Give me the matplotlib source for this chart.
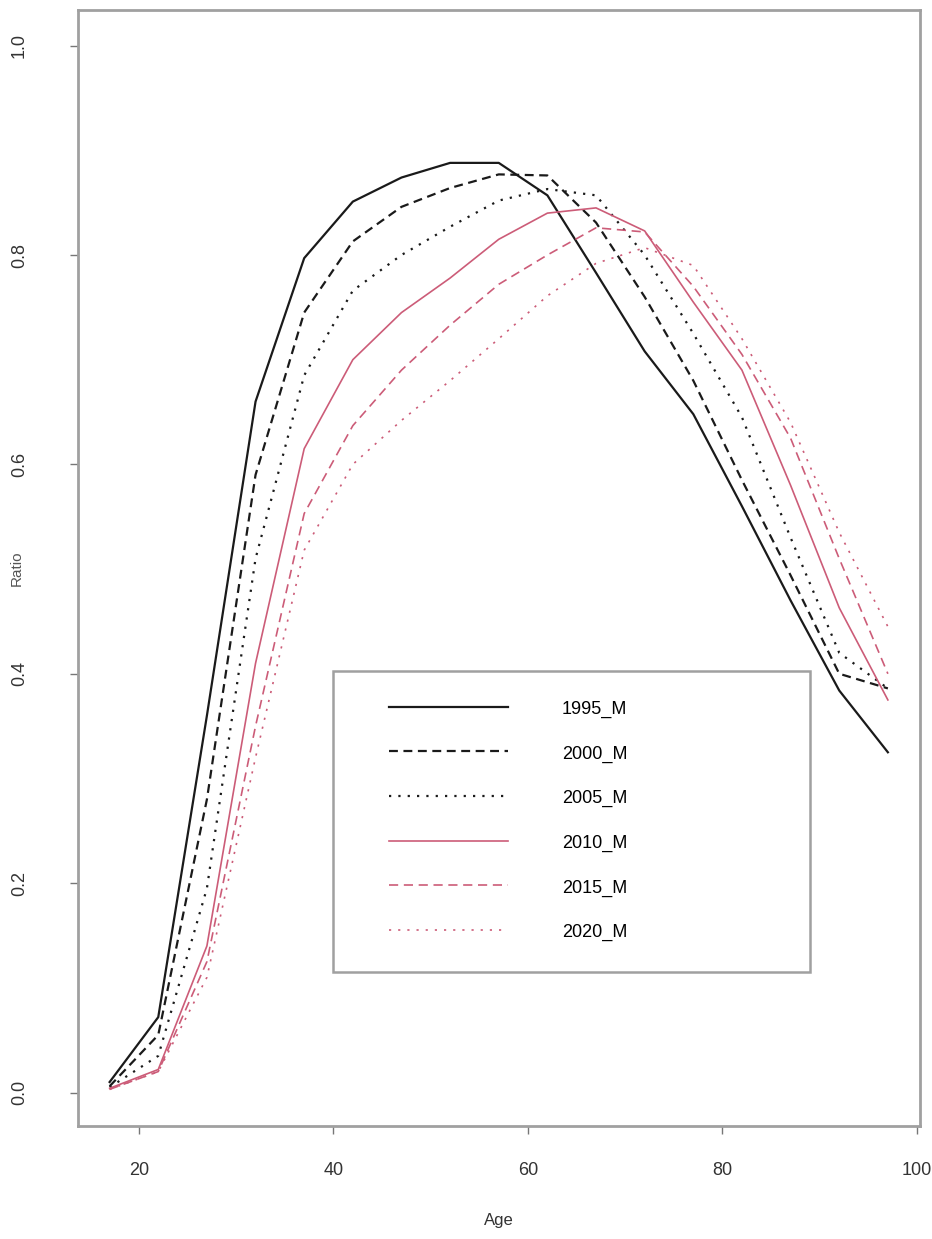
import matplotlib.pyplot as plt
from matplotlib.patches import Rectangle

# ages (5-year groups) and ratio per survey year
ages = [17, 22, 27, 32, 37, 42, 47, 52, 57, 62, 67, 72, 77, 82, 87, 92, 97]
r1995 = [0.010, 0.072, 0.360, 0.660, 0.797, 0.851, 0.874, 0.888, 0.888, 0.857,
         0.783, 0.708, 0.648, 0.560, 0.470, 0.384, 0.325]
r2000 = [0.006, 0.055, 0.280, 0.590, 0.745, 0.813, 0.846, 0.864, 0.877, 0.876,
         0.831, 0.760, 0.680, 0.585, 0.494, 0.400, 0.386]
r2005 = [0.005, 0.035, 0.195, 0.510, 0.685, 0.766, 0.800, 0.827, 0.852, 0.863,
         0.857, 0.800, 0.725, 0.645, 0.530, 0.420, 0.386]
r2010 = [0.004, 0.022, 0.140, 0.410, 0.615, 0.700, 0.745, 0.778, 0.815, 0.840,
         0.845, 0.823, 0.755, 0.690, 0.580, 0.463, 0.375]
r2015 = [0.003, 0.020, 0.125, 0.350, 0.553, 0.637, 0.690, 0.733, 0.772, 0.800,
         0.826, 0.822, 0.770, 0.705, 0.625, 0.510, 0.400]
r2020 = [0.003, 0.020, 0.110, 0.320, 0.518, 0.600, 0.642, 0.680, 0.720, 0.761,
         0.792, 0.807, 0.790, 0.720, 0.640, 0.535, 0.445]
labels = ["1995_M", "2000_M", "2005_M", "2010_M", "2015_M", "2020_M"]
xticks = [20, 40, 60, 80, 100]
yticks = [0.0, 0.2, 0.4, 0.6, 0.8, 1.0]

BLACK = "#1a1a1a"
PINK = "#cc5c78"
GRAY = "#a0a0a0"
FONT = ["Liberation Sans Narrow", "Liberation Sans", "DejaVu Sans"]
plt.rcParams["font.family"] = FONT

fig = plt.figure(figsize=(9.32, 12.39), dpi=100)
ax = fig.add_axes([0.0837, 0.0912, 0.9034, 0.9007])

series = [r1995, r2000, r2005, r2010, r2015, r2020]
styles = [
    (BLACK, 1.6, "-"),
    (BLACK, 1.6, (0, (4, 2.5))),
    (BLACK, 1.6, (0, (1, 3.2))),
    (PINK, 1.2, "-"),
    (PINK, 1.2, (0, (5.5, 3.4))),
    (PINK, 1.2, (0, (1.3, 4.2))),
]
for vals, lab, (col, lw, ls) in zip(series, labels, styles):
    ax.plot(ages, vals, color=col, lw=lw, linestyle=ls, label=lab)

ax.set_xlim(13.75, 100.3)
ax.set_ylim(-0.032, 1.034)
ax.set_xticks(xticks)
ax.set_xticklabels([str(t) for t in xticks])
ax.set_yticks(yticks)
ax.set_yticklabels([f"{t:.1f}" for t in yticks], rotation=90, va="center")

for s in ax.spines.values():
    s.set_color(GRAY)
    s.set_linewidth(2)
ax.tick_params(axis="both", direction="out", length=6, width=1, color="#777777",
               labelcolor="#333333", labelsize=13)
ax.tick_params(axis="x", pad=20)
ax.tick_params(axis="y", pad=30)

ax.set_xlabel("Age", fontsize=12, color="#333333")
ax.set_ylabel("Ratio", fontsize=11, color="#555555")
ax.xaxis.set_label_coords(0.5, -0.078)
ax.yaxis.set_label_coords(-0.064, 0.5)

# legend box drawn as a frame, entries without their own frame
ax.add_patch(Rectangle((0.303, 0.1376), 0.566, 0.2699, transform=ax.transAxes,
                       fill=False, edgecolor=GRAY, lw=1.8, zorder=3))
ax.legend(loc="upper left", bbox_to_anchor=(0.369, 0.382), frameon=False,
          borderpad=0, borderaxespad=0, handlelength=6.6, handleheight=1.0,
          handletextpad=3.0, labelspacing=1.45, fontsize=13)

fig.savefig("out.png", dpi=100, facecolor="white")
